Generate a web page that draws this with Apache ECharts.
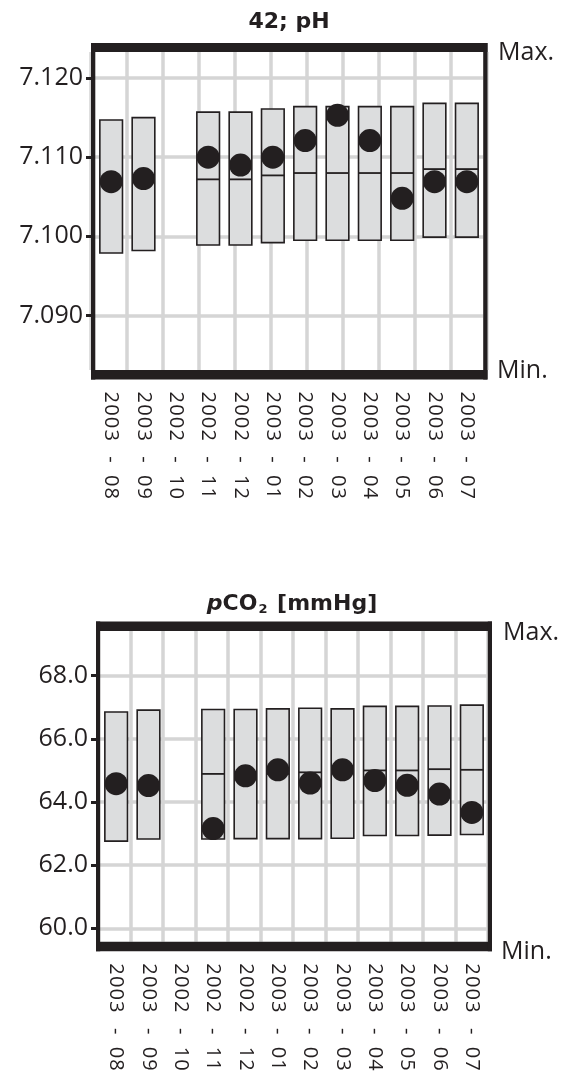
<!DOCTYPE html>
<html><head><meta charset="utf-8">
<script src="https://cdn.jsdelivr.net/npm/echarts@6/dist/echarts.min.js"></script>
<style>html,body{margin:0;padding:0;background:#fff}#c{width:567px;height:1074px}</style>
</head><body><div id="c"></div>
<script>
// ---------- data ----------
const categories = ['2003 - 08','2003 - 09','2002 - 10','2002 - 11','2002 - 12','2003 - 01','2003 - 02','2003 - 03','2003 - 04','2003 - 05','2003 - 06','2003 - 07'];

const phTicks   = [7.09, 7.10, 7.11, 7.12];
const phMin     = [7.0979, 7.0982, null, 7.0989, 7.0989, 7.0992, 7.0995, 7.0995, 7.0995, 7.0995, 7.0999, 7.0999];
const phMax     = [7.1147, 7.1150, null, 7.1157, 7.1157, 7.1161, 7.1164, 7.1164, 7.1164, 7.1164, 7.1168, 7.1168];
const phMedian  = [null, null, null, 7.1072, 7.1072, 7.1077, 7.1080, 7.1080, 7.1080, 7.1080, 7.1085, 7.1085];
const phValue   = [7.1069, 7.1073, null, 7.1100, 7.1090, 7.1100, 7.1121, 7.1153, 7.1121, 7.1048, 7.1069, 7.1069];
const phAxisMin = 7.0831, phAxisMax = 7.1233;

const co2Ticks   = [60, 62, 64, 66, 68];
const co2Min     = [62.76, 62.83, null, 62.83, 62.84, 62.84, 62.84, 62.85, 62.94, 62.94, 62.95, 62.97];
const co2Max     = [66.85, 66.91, null, 66.93, 66.93, 66.95, 66.97, 66.95, 67.03, 67.03, 67.04, 67.07];
const co2Median  = [null, null, null, 64.89, 64.89, 64.89, 64.94, 64.94, 65.00, 65.00, 65.04, 65.02];
const co2Value   = [64.58, 64.52, null, 63.16, 64.83, 65.02, 64.60, 65.02, 64.68, 64.53, 64.25, 63.67];
const co2AxisMin = 59.576, co2AxisMax = 69.416;

// ---------- helpers ----------
const INK = '#231f20';
const GRID_GREY = '#d5d5d5';

function boxData(mins, maxs, meds) {
  const out = [];
  mins.forEach((m, i) => {
    if (m == null) return;
    out.push([i, m, maxs[i], meds[i] == null ? NaN : meds[i]]);
  });
  return out;
}
function renderBox(params, api) {
  const i = api.value(0), lo = api.value(1), hi = api.value(2), med = api.value(3);
  const bw = api.size([1, 0])[0] * 0.70;
  const pLo = api.coord([i, lo]), pHi = api.coord([i, hi]);
  const x0 = pLo[0] - bw / 2;
  const children = [{
    type: 'rect',
    shape: { x: x0, y: pHi[1], width: bw, height: pLo[1] - pHi[1] },
    style: { fill: '#dcddde', stroke: INK, lineWidth: 1.6 }
  }];
  if (med != null && !isNaN(med)) {
    const pm = api.coord([i, med]);
    children.push({
      type: 'line',
      shape: { x1: x0, y1: pm[1], x2: x0 + bw, y2: pm[1] },
      style: { stroke: INK, lineWidth: 1.8 }
    });
  }
  return { type: 'group', children };
}
// tracked (letter-spaced) category labels: each character in its own fixed-width box
function trackedLabel(v) {
  let spaceIdx = 0;
  return String(v).split('').map(ch => {
    if (ch === ' ') { spaceIdx++; return spaceIdx === 1 ? '{s1| }' : '{s2| }'; }
    if (ch === '-') return '{h|-}';
    return '{d|' + ch + '}';
  }).join('');
}
const LBL_FONT = { fontFamily: 'Open Sans', fontSize: 20, color: INK };
const labelRich = {
  d:  Object.assign({ width: 12.6, align: 'center' }, LBL_FONT),
  h:  Object.assign({ width: 10, align: 'center' }, LBL_FONT),
  s1: Object.assign({ width: 13 }, LBL_FONT),
  s2: Object.assign({ width: 10 }, LBL_FONT)
};
function catAxis(gi) {
  return {
    gridIndex: gi, type: 'category', data: categories, boundaryGap: true,
    axisLine: { show: false }, axisTick: { show: false }, splitLine: { show: false },
    axisLabel: Object.assign({ interval: 0, rotate: -90, margin: 21, formatter: trackedLabel, rich: labelRich }, LBL_FONT)
  };
}
function gridAxis(gi, n) {
  return {
    gridIndex: gi, type: 'value', min: 0, max: n, interval: 1,
    axisLine: { show: false }, axisTick: { show: false }, axisLabel: { show: false },
    splitLine: { show: true, lineStyle: { color: GRID_GREY, width: 3.5 } }
  };
}
function valAxis(gi, mn, mx, ticks, digits) {
  return {
    gridIndex: gi, type: 'value', min: mn, max: mx,
    axisLine: { show: false },
    axisTick: { show: true, length: 9, customValues: ticks, lineStyle: { color: INK, width: 3 } },
    axisLabel: { customValues: ticks, margin: 12, fontFamily: 'Open Sans', fontSize: 25, color: INK,
                 formatter: v => Number(v).toFixed(digits) },
    splitLine: { show: true, lineStyle: { color: GRID_GREY, width: 3.5 } }
  };
}
function frame(x, yTop, w, hTopBand, yBot, hBotBand, side) {
  const h = yBot + hBotBand - yTop;
  const s = { fill: INK };
  return [
    { type: 'rect', z: 100, shape: { x: x, y: yTop, width: w, height: hTopBand }, style: s },
    { type: 'rect', z: 100, shape: { x: x, y: yBot, width: w, height: hBotBand }, style: s },
    { type: 'rect', z: 100, shape: { x: x, y: yTop, width: side, height: h }, style: s },
    { type: 'rect', z: 100, shape: { x: x + w - side, y: yTop, width: side, height: h }, style: s }
  ];
}
function label(text, x, y) {
  return { type: 'text', z: 100, x: x, y: y,
    style: { text: text, fontFamily: 'Open Sans', fontSize: 25, fill: INK, verticalAlign: 'middle', align: 'left' } };
}

const chart = echarts.init(document.getElementById('c'));
chart.setOption({
  animation: false,
  grid: [
    { left: 95, top: 52, width: 388, height: 318 },
    { left: 91, top: 52, width: 396, height: 318 },
    { left: 100, top: 631, width: 388, height: 310.7 },
    { left: 98, top: 631, width: 390, height: 310.7 }
  ],
  xAxis: [catAxis(0), gridAxis(1, 11), catAxis(2), gridAxis(3, 12)],
  yAxis: [
    valAxis(0, phAxisMin, phAxisMax, phTicks, 3),
    { gridIndex: 1, type: 'value', min: 0, max: 1, show: false },
    valAxis(2, co2AxisMin, co2AxisMax, co2Ticks, 1),
    { gridIndex: 3, type: 'value', min: 0, max: 1, show: false }
  ],
  series: [
    { type: 'custom', xAxisIndex: 0, yAxisIndex: 0, z: 3, renderItem: renderBox,
      data: boxData(phMin, phMax, phMedian) },
    { type: 'scatter', xAxisIndex: 0, yAxisIndex: 0, z: 5, symbol: 'circle', symbolSize: 23,
      itemStyle: { color: INK, opacity: 1 }, data: phValue },
    { type: 'custom', xAxisIndex: 2, yAxisIndex: 2, z: 3, renderItem: renderBox,
      data: boxData(co2Min, co2Max, co2Median) },
    { type: 'scatter', xAxisIndex: 2, yAxisIndex: 2, z: 5, symbol: 'circle', symbolSize: 23,
      itemStyle: { color: INK, opacity: 1 }, data: co2Value }
  ],
  graphic: [].concat(
    frame(91, 43, 396.5, 9, 370, 9.5, 4.3),
    frame(96, 621.5, 396, 9.5, 941.7, 9.5, 4.2),
    [
      { type: 'text', z: 100, x: 289, y: 22,
        style: { text: '42; pH', fontFamily: 'DejaVu Sans', fontWeight: 'bold', fontSize: 22, fill: INK, align: 'center', verticalAlign: 'middle' } },
      { type: 'text', z: 100, x: 292, y: 604,
        style: { text: '{i|p}CO{s|2} [mmHg]', fontFamily: 'DejaVu Sans', fontWeight: 'bold', fontSize: 22, fill: INK, align: 'center', verticalAlign: 'middle',
          rich: { i: { fontFamily: 'DejaVu Sans', fontStyle: 'italic', fontWeight: 'bold', fontSize: 22, fill: INK },
                  s: { fontFamily: 'DejaVu Sans', fontWeight: 'bold', fontSize: 13, fill: INK, verticalAlign: 'bottom', padding: [12, 2, 0, 1] } } } },
      label('Max.', 498, 53),
      label('Min.', 497, 371),
      label('Max.', 503, 633),
      label('Min.', 501, 952)
    ]
  )
});
</script></body></html>
